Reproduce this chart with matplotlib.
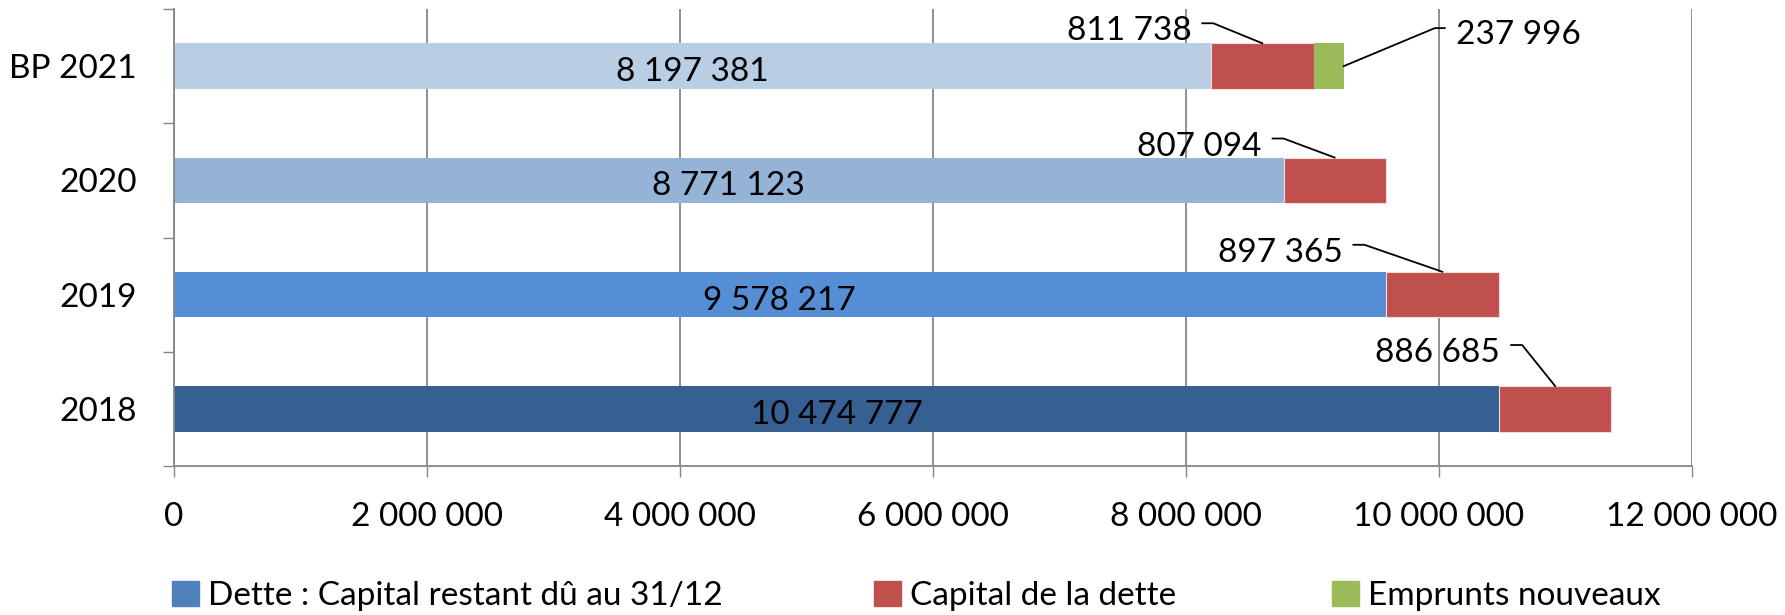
import matplotlib.pyplot as plt
from matplotlib.patches import Patch

plt.rcParams['font.family'] = ['Lato', 'DejaVu Sans']

# données (de bas en haut)
annees = ['2018', '2019', '2020', 'BP 2021']
capital_restant = [10474777, 9578217, 8771123, 8197381]
capital_dette = [886685, 897365, 807094, 811738]
emprunts = [0, 0, 0, 237996]
noms = ['Dette : Capital restant dû au 31/12', 'Capital de la dette', 'Emprunts nouveaux']
graduations = [0, 2000000, 4000000, 6000000, 8000000, 10000000, 12000000]

bleus = ['#366092', '#558ed5', '#95b3d7', '#b9cde5']
rouge = '#c0504d'
vert = '#9bbb59'
gris = '#868686'

# décalage des étiquettes (pixels, vers le bas = positif), posées à la main comme dans Excel
decal_rouge = [(-55, -39), (-100, -25), (-73, -17), (-71, -18)]
decal_vert = (112, -37)

def fmt(v):
    return f'{v:,}'.replace(',', ' ')

W, H = 1785, 615
fig = plt.figure(figsize=(W / 100, H / 100), dpi=100)
ax = fig.add_axes([174 / W, 1 - 466 / H, (1692 - 174) / W, (466 - 9) / H])

y = list(range(len(annees)))
ep = 0.4
ax.barh(y, capital_restant, height=ep, color=bleus, zorder=2)
ax.barh(y, capital_dette, left=capital_restant, height=ep, color=rouge,
        edgecolor='#f2dcdb', linewidth=0.8, zorder=2)
gauche = [a + b for a, b in zip(capital_restant, capital_dette)]
ax.barh(y, emprunts, left=gauche, height=ep, color=vert, zorder=2)

ax.set_xlim(0, 12000000)
ax.set_ylim(-0.5, 3.5)

ax.set_xticks(graduations)
ax.set_xticklabels([fmt(v) for v in graduations])
ax.set_yticks([i - 0.5 for i in range(len(annees) + 1)])
ax.set_yticklabels([])
ax.set_yticks(y, minor=True)
ax.set_yticklabels(annees, minor=True)

ax.grid(axis='x', color=gris, linewidth=1.3, zorder=0)
ax.set_axisbelow(True)
for s in ['top', 'right']:
    ax.spines[s].set_visible(False)
for s in ['left', 'bottom']:
    ax.spines[s].set_color(gris)
    ax.spines[s].set_linewidth(1.3)

ax.tick_params(axis='x', which='major', length=8, width=1, color=gris,
               labelsize=24, pad=18)
ax.tick_params(axis='y', which='major', length=8, width=1, color=gris)
ax.tick_params(axis='y', which='minor', length=0, labelsize=24, pad=27)

# étiquettes dans les barres bleues
for i, v in enumerate(capital_restant):
    ax.annotate(fmt(v), xy=(v / 2, i), xytext=(0, -3), textcoords='offset pixels',
                ha='center', va='center_baseline', fontsize=24, zorder=3)

inv = ax.transData.inverted()

def ligne(ancre, pts):
    xa, ya = ax.transData.transform(ancre)
    disp = [(xa + dx, ya - dy) for dx, dy in pts] + [(xa, ya)]
    data = inv.transform(disp)
    ax.plot(data[:, 0], data[:, 1], color='black', linewidth=1.3,
            clip_on=False, zorder=4)

# étiquettes du capital de la dette
for i, v in enumerate(capital_dette):
    ancre = (capital_restant[i] + v / 2, i + ep / 2)
    dx, dy = decal_rouge[i]
    ax.annotate(fmt(v), xy=ancre, xytext=(dx, -dy - 3), textcoords='offset pixels',
                ha='right', va='center_baseline', fontsize=24, zorder=4)
    ligne(ancre, [(dx + 11, dy - 2), (dx + 22, dy - 2)])

# étiquettes des emprunts nouveaux
for i, v in enumerate(emprunts):
    if v == 0:
        continue
    ancre = (gauche[i] + v, i)
    dx, dy = decal_vert
    ax.annotate(fmt(v), xy=ancre, xytext=(dx, -dy - 3), textcoords='offset pixels',
                ha='left', va='center_baseline', fontsize=24, zorder=4)
    ligne(ancre, [(dx - 11, dy - 1), (dx - 21, dy - 1)])

# légende
couleurs_leg = ['#4f81bd', rouge, vert]
x_leg = [172, 874, 1332]
for nom, c, xl in zip(noms, couleurs_leg, x_leg):
    fig.legend([Patch(color=c)], [nom], loc='center left',
               bbox_to_anchor=(xl / W, 1 - 596 / H), frameon=False,
               fontsize=24, handlelength=0.8, handleheight=0.8,
               handletextpad=0.28, borderpad=0, borderaxespad=0)

fig.savefig('out.png', dpi=100)
